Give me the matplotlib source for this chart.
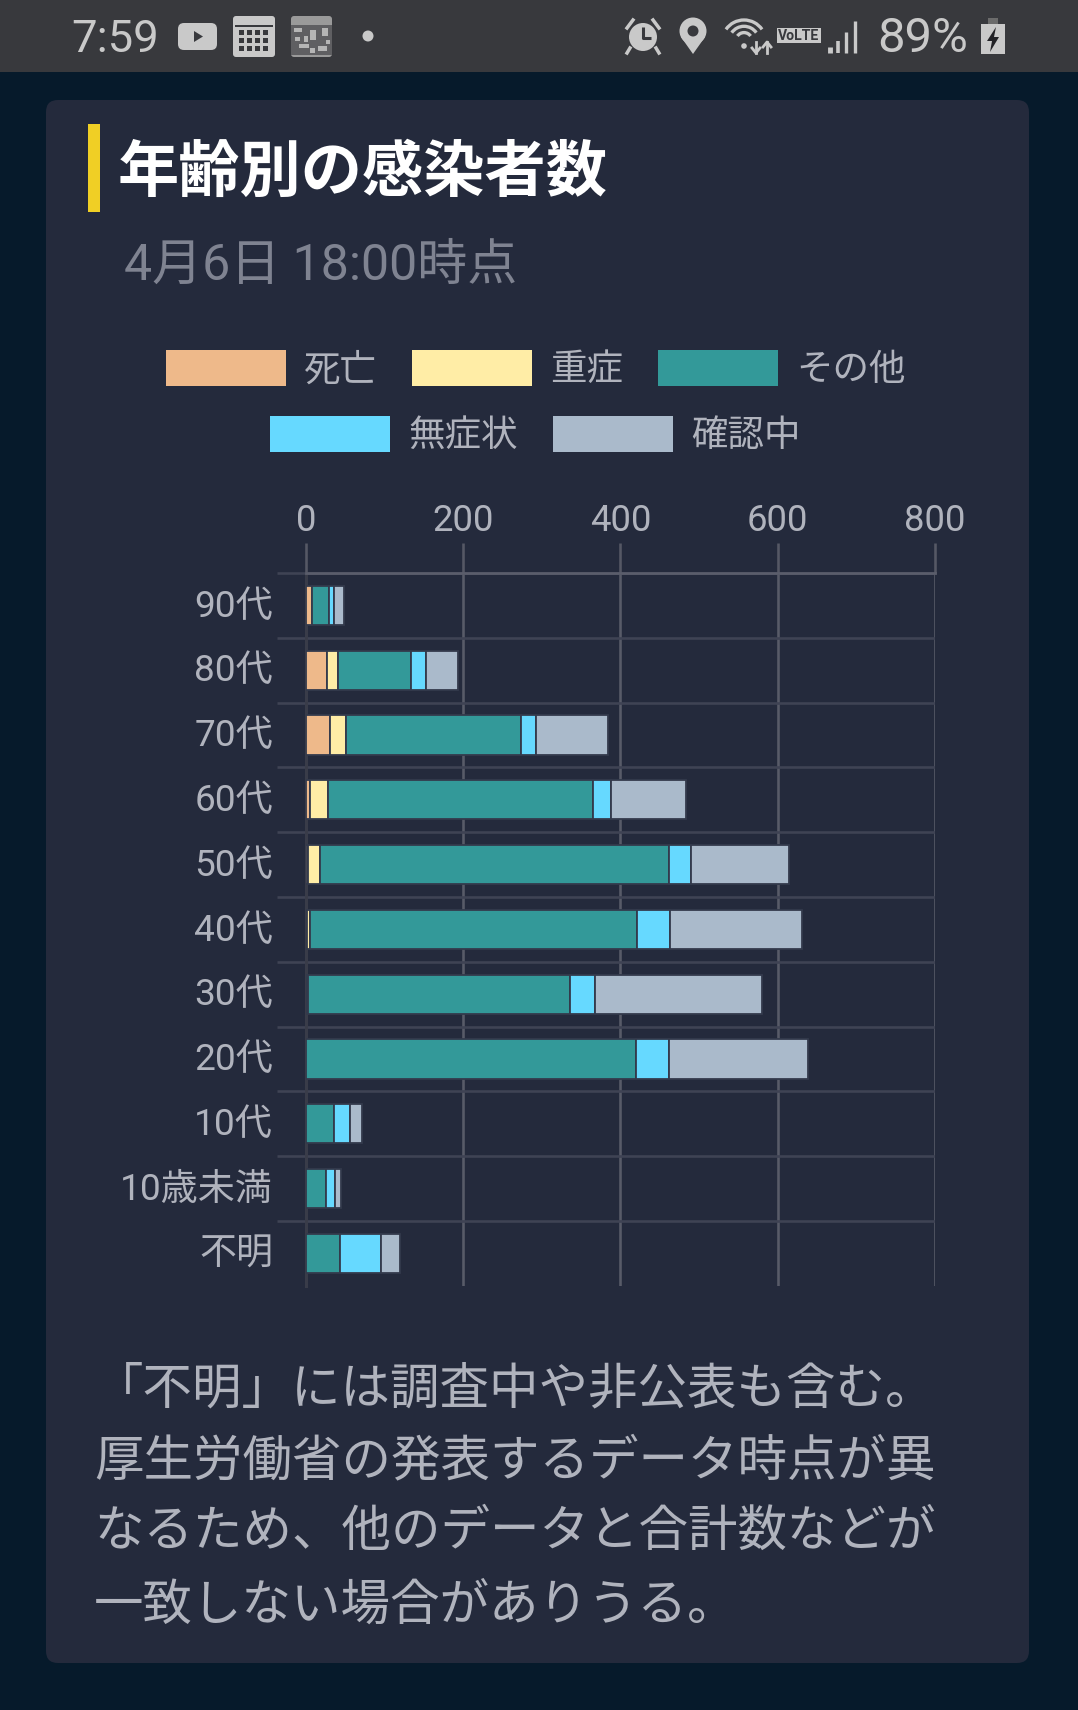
import matplotlib
matplotlib.use("Agg")
import matplotlib.pyplot as plt
from matplotlib.patches import Rectangle, FancyBboxPatch, Patch, Polygon, Circle, Arc
from matplotlib.transforms import Affine2D

plt.rcParams['font.family'] = ['Roboto', 'Noto Sans CJK JP', 'DejaVu Sans']

categories = ['90代', '80代', '70代', '60代', '50代', '40代', '30代', '20代', '10代', '10歳未満', '不明']
deaths =       [7, 27, 30, 5, 2, 1.5, 1, 0, 0, 0, 0]
severe =       [0, 14, 21, 23, 16, 3, 1, 0, 0, 0, 0]
others =       [22, 92, 222, 337, 444, 416, 334, 420, 35, 26, 43]
asymptomatic = [7, 20, 20, 23, 28, 42, 32, 42, 21, 11, 52]
confirming =   [12, 41, 91, 96, 125, 169, 212, 177, 15, 8, 24]
series_names = ['死亡', '重症', 'その他', '無症状', '確認中']
series_colors = ['#eeb98a', '#ffeda6', '#339999', '#66d9ff', '#aabacb']
x_ticks = [0, 200, 400, 600, 800]
title_text = '年齢別の感染者数'
subtitle_text = '4月6日 18:00時点'
note_lines = ['「不明」には調査中や非公表も含む。',
              '厚生労働省の発表するデータ時点が異',
              'なるため、他のデータと合計数などが',
              '一致しない場合がありうる。']

W, H = 1078, 1710
BG, CARD, BAR = '#061a2b', '#242a3c', '#38393d'
ICON = '#c9c9c9'
px = lambda p: p * 0.72

fig = plt.figure(figsize=(W / 100, H / 100), dpi=100, facecolor=BG)

# page layer in pixel coordinates
bg = fig.add_axes([0, 0, 1, 1], zorder=0)
bg.set_xlim(0, W); bg.set_ylim(H, 0); bg.axis('off')
bg.add_patch(Rectangle((0, 0), W, 72, fc=BAR, ec='none'))
bg.add_patch(FancyBboxPatch((56, 110), 963, 1543, boxstyle='round,pad=10,rounding_size=12', fc=CARD, ec='none'))
bg.add_patch(Rectangle((88, 124), 12, 88, fc='#f0cf25', ec='none'))
bg.text(118, 173.5, title_text, color='white', fontsize=px(61.2), fontweight='bold', family='Noto Sans CJK JP', va='center', ha='left')
bg.text(124, 266, subtitle_text, color='#7f8391', fontsize=px(50), va='center', ha='left')
for line, y in zip(note_lines, [1390, 1462, 1533, 1606]):
    bg.text(94, y, line, color='#b0b3bd', fontsize=px(49.5), va='center', ha='left')

# status bar
bg.text(71, 40, '7:59', color=ICON, fontsize=px(45.5), va='center', ha='left')
bg.text(877, 39, '89%', color=ICON, fontsize=px(49), va='center', ha='left')
def rrect(x, y, w, h, r=4, fc=ICON):
    bg.add_patch(FancyBboxPatch((x + r, y + r), w - 2 * r, h - 2 * r, boxstyle=f'round,pad={r},rounding_size={r}', fc=fc, ec='none'))
rrect(178, 23, 39, 27, 6)
bg.add_patch(Polygon([(194, 31), (194, 42), (203, 36.5)], fc=BAR, ec='none'))
for x0 in (233,):
    rrect(x0, 16, 42, 41, 3)
    bg.add_patch(Rectangle((x0 + 2, 25), 38, 2, fc=BAR, ec='none'))
    for r in range(3):
        for c in range(4):
            bg.add_patch(Rectangle((x0 + 6 + c * 8, 30 + r * 8), 5, 5, fc=BAR, ec='none'))
rrect(291, 16, 41, 41, 3, '#9a9a9a')
bg.add_patch(Rectangle((291, 25), 41, 30, fc='#5f5f62', ec='none'))
for cx, cy, cw, ch in [(294, 28, 8, 4), (310, 30, 6, 10), (322, 28, 6, 8), (299, 44, 10, 4), (318, 46, 9, 5),
                       (304, 36, 4, 6), (295, 37, 5, 4), (326, 40, 4, 4), (310, 48, 5, 5)]:
    bg.add_patch(Rectangle((cx, cy), cw, ch, fc='#b5b5b5', ec='none'))
bg.add_patch(Circle((368, 36), 5.5, fc=ICON, ec='none'))
# alarm
bg.add_patch(Circle((643, 37), 14, fc=ICON, ec='none'))
bg.plot([643, 643, 651], [27, 38, 38], color=BAR, lw=2.2, solid_capstyle='butt')
bg.plot([627, 633], [28, 20], color=ICON, lw=2.5)
bg.plot([659, 653], [28, 20], color=ICON, lw=2.5)
bg.plot([630, 627], [48, 53], color=ICON, lw=2.5)
bg.plot([656, 659], [48, 53], color=ICON, lw=2.5)
# pin
bg.add_patch(Circle((693, 31), 13.5, fc=ICON, ec='none'))
bg.add_patch(Polygon([(681, 37), (705, 37), (693, 54)], fc=ICON, ec='none'))
bg.add_patch(Circle((693, 31), 5.5, fc=BAR, ec='none'))
# wifi
for d in (44, 30, 16):
    bg.add_patch(Arc((744, 42 - (44 - d) * 0.05), d, d, theta1=215, theta2=325, color=ICON, lw=2.4))
bg.add_patch(Circle((744, 46), 2.8, fc=ICON, ec='none'))
bg.plot([756, 756], [42, 53], color=ICON, lw=2); bg.plot([752, 756, 760], [48, 53, 48], color=ICON, lw=2)
bg.plot([767, 767], [53, 42], color=ICON, lw=2); bg.plot([763, 767, 771], [47, 42, 47], color=ICON, lw=2)
# VoLTE
bg.add_patch(Rectangle((777, 28), 44, 15, fc=ICON, ec='none'))
bg.text(799, 35.5, 'VoLTE', color=BAR, fontsize=px(14), fontweight='bold', va='center', ha='center', family='Roboto')
# signal bars
for sx, t, w in zip((830, 838, 846, 855), (47, 41, 32, 21), (3.5, 2.6, 2.4, 2.4)):
    bg.plot([sx, sx], [53, t], color=ICON, lw=w, solid_capstyle='butt')
# battery
bg.add_patch(Rectangle((988, 18), 10, 7, fc='#6b6b6b', ec='none'))
bg.add_patch(Rectangle((981, 24), 24, 30, fc=ICON, ec='none'))
bg.add_patch(Polygon([(996, 27), (987, 41), (992, 41), (990, 52), (999, 37), (994, 37)], fc='#222226', ec='none'))

# chart axes: 0..800 spans x 306..934.8, eleven rows span y 573..1285.7
left, right, top, bottom = 306.0, 934.8, 573.0, 1285.7
ax = fig.add_axes([left / W, 1 - bottom / H, (right - left) / W, (bottom - top) / H], zorder=1)
ax.patch.set_alpha(0)
n = len(categories)
ax.set_xlim(0, 800)
ax.set_ylim(n, 0)
for s in ('right', 'bottom'):
    ax.spines[s].set_visible(False)
ax.spines['top'].set_color('#5a5d6b'); ax.spines['top'].set_linewidth(px(2.8))
ax.spines['left'].set_color('#393c49'); ax.spines['left'].set_linewidth(px(3))
ax.xaxis.tick_top()
ax.set_xticks(x_ticks)
ax.set_xticklabels([str(v) for v in x_ticks], fontsize=px(36.5), color='#b0b3bd')
ax.tick_params(axis='x', length=px(30), width=px(2.6), color='#555865', pad=px(4))
ax.get_xticklines()[0].set_color('#1b1f2e')
ax.grid(axis='x', color='#585b68', lw=px(2.6))
ypos = [i + 0.5 for i in range(n)]
ax.set_yticks(ypos)
ax.set_yticklabels(categories, fontsize=px(37), color='#b0b3bd', va='center')
ax.tick_params(axis='y', which='major', length=0, pad=px(33))
ax.set_yticks(list(range(0, n)), minor=True)
ax.tick_params(axis='y', which='minor', length=px(29.5), width=px(2.6), color='#3f4354')
ax.grid(axis='y', which='minor', color='#3f4354', lw=px(2.6))
ax.set_axisbelow(True)
for lab in ax.get_yticklabels():
    lab.set_transform(lab.get_transform() + Affine2D().translate(0, -1.2))

base = [0.0] * n
for vals, c in zip([deaths, severe, others, asymptomatic, confirming], series_colors):
    for i, v in enumerate(vals):
        if v > 0:
            ax.barh(ypos[i], v, left=base[i], height=0.605, color=c, edgecolor='#333a4c', linewidth=px(1.8), zorder=3)
        base[i] += v

handles = [Patch(fc=c, ec='none') for c in series_colors]
leg_kw = dict(frameon=False, fontsize=px(36.5), labelcolor='#b0b3bd', handlelength=120 / 36.5, handleheight=1.14,
              handletextpad=0.5, columnspacing=0.95, borderpad=0, borderaxespad=0, loc='center')
l1 = fig.legend(handles[:3], series_names[:3], ncol=3, bbox_to_anchor=(535.5 / W, 1 - 369 / H), **leg_kw)
l2 = fig.legend(handles[3:], series_names[3:], ncol=2, bbox_to_anchor=(535.5 / W, 1 - 435 / H), **leg_kw)
fig.savefig('out.png', dpi=100, facecolor=BG)
